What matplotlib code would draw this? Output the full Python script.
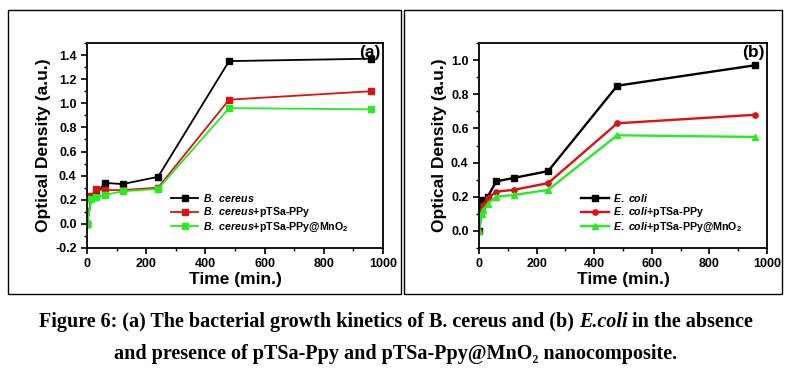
import matplotlib
matplotlib.use("Agg")
import matplotlib.pyplot as plt
from matplotlib.patches import Rectangle
from matplotlib.ticker import MultipleLocator, FormatStrFormatter

plt.rcParams['font.family'] = ['Liberation Sans', 'DejaVu Sans']
plt.rcParams['font.weight'] = 'bold'
plt.rcParams['mathtext.fontset'] = 'custom'
plt.rcParams['mathtext.it'] = 'Liberation Sans:italic:bold'
plt.rcParams['mathtext.rm'] = 'Liberation Sans:bold'
plt.rcParams['mathtext.bf'] = 'Liberation Sans:bold'

# ---- data ----
time_a = [0, 15, 30, 60, 120, 240, 480, 960]
bc = [0.0, 0.22, 0.24, 0.34, 0.33, 0.39, 1.35, 1.37]
bc_ppy = [0.0, 0.23, 0.29, 0.28, 0.28, 0.30, 1.03, 1.10]
bc_mno2 = [0.0, 0.21, 0.22, 0.24, 0.27, 0.29, 0.96, 0.95]

time_b = [0, 10, 15, 30, 60, 120, 240, 480, 960]
ec = [0.0, 0.15, 0.18, 0.20, 0.29, 0.31, 0.35, 0.85, 0.97]
ec_ppy = [0.0, 0.12, 0.15, 0.19, 0.23, 0.24, 0.28, 0.63, 0.68]
ec_mno2 = [0.0, 0.10, 0.12, 0.16, 0.20, 0.21, 0.24, 0.56, 0.55]

labels_a = [r"$\mathit{B.\ cereus}$", r"$\mathit{B.\ cereus}$+pTSa-PPy",
            r"$\mathit{B.\ cereus}$+pTSa-PPy@MnO$_2$"]
labels_b = [r"$\mathit{E.\ coli}$", r"$\mathit{E.\ coli}$+pTSa-PPy",
            r"$\mathit{E.\ coli}$+pTSa-PPy@MnO$_2$"]

caption_1 = ["Figure 6: (a) The bacterial growth kinetics of B. cereus and (b) ",
             "E.coli", " in the absence"]
caption_2 = "and presence of pTSa-Ppy and pTSa-Ppy@MnO\u2082 nanocomposite."

colors = ['black', '#e01010', '#22ee22']

W, H = 792, 376
fig = plt.figure(figsize=(W / 100, H / 100), dpi=100)

def fx(x):
    return x / W

def fy(y):
    return 1 - y / H

# panel border boxes
for (x0, y0, x1, y1) in [(8, 10, 401, 294), (404, 10, 782, 294)]:
    fig.patches.append(Rectangle((fx(x0), fy(y1)), fx(x1 - x0), (y1 - y0) / H,
                                 transform=fig.transFigure, fill=False,
                                 edgecolor='black', linewidth=1.0))

ax_a = fig.add_axes([fx(87), fy(248), fx(383 - 87), (248 - 43) / H])
ax_b = fig.add_axes([fx(479), fy(248), fx(767 - 479), (248 - 43) / H])

def style(ax, ylim, tag):
    ax.set_xlim(0, 1000)
    ax.set_ylim(*ylim)
    ax.xaxis.set_major_locator(MultipleLocator(200))
    ax.xaxis.set_minor_locator(MultipleLocator(100))
    ax.yaxis.set_major_locator(MultipleLocator(0.2))
    ax.yaxis.set_minor_locator(MultipleLocator(0.1))
    ax.yaxis.set_major_formatter(FormatStrFormatter('%.1f'))
    ax.tick_params(which='major', direction='out', length=4, width=1.2,
                   labelsize=9, top=False, right=False)
    ax.tick_params(which='minor', direction='out', length=2, width=1.0,
                   top=False, right=False)
    for lab in ax.get_xticklabels() + ax.get_yticklabels():
        lab.set_fontweight('bold')
    for s in ax.spines.values():
        s.set_linewidth(1.3)
    ax.set_xlabel('Time (min.)', fontsize=12.5, fontweight='bold', labelpad=1)
    ax.set_ylabel('Optical Density (a.u.)', fontsize=12.5, fontweight='bold', labelpad=3)
    ax.text(0.993, 0.99, tag, transform=ax.transAxes, ha='right', va='top',
            fontsize=12.5, fontweight='bold')

leg_prop = {'weight': 'bold', 'size': 7.7}

# panel a
for y, c, lab in zip([bc, bc_ppy, bc_mno2], colors, labels_a):
    ax_a.plot(time_a, y, color=c, marker='s', markersize=3.8, linewidth=1.3, label=lab)
style(ax_a, (-0.2, 1.5), '(a)')
ax_a.legend(loc='lower left', bbox_to_anchor=(0.25, 0.02), frameon=False,
            handlelength=2.6, handletextpad=0.4, labelspacing=0.15, prop=leg_prop)

# panel b
markers_b = ['s', 'o', '^']
for y, c, m, lab in zip([ec, ec_ppy, ec_mno2], colors, markers_b, labels_b):
    ax_b.plot(time_b, y, color=c, marker=m, markersize=3.8, linewidth=1.7, label=lab)
style(ax_b, (-0.1, 1.1), '(b)')
ax_b.legend(loc='lower left', bbox_to_anchor=(0.32, 0.02), frameon=False,
            handlelength=2.6, handletextpad=0.4, labelspacing=0.15, prop=leg_prop)

# caption
cap_size = 14.5
serif = ['Liberation Serif', 'DejaVu Serif']
styles = ['normal', 'italic', 'normal']
renderer = fig.canvas.get_renderer()
pieces = []
for txt, st in zip(caption_1, styles):
    t = fig.text(0, fy(322), txt, family=serif, style=st, fontweight='bold',
                 fontsize=cap_size, ha='left', va='center')
    pieces.append(t)
widths = [p.get_window_extent(renderer).width for p in pieces]
x = (W - sum(widths)) / 2
for p, w in zip(pieces, widths):
    p.set_x(x / W)
    x += w
fig.text(0.5, fy(354), caption_2, family=serif, fontweight='bold',
         fontsize=cap_size, ha='center', va='center')

fig.savefig('out.png', dpi=100)
